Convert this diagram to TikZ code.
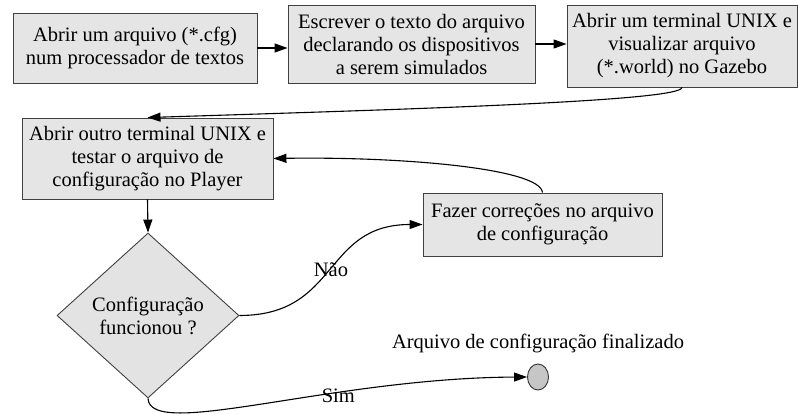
\documentclass[tikz,border=0pt]{standalone}
\usepackage{fontspec}
\setmainfont{Liberation Serif}
\usetikzlibrary{shapes.geometric,arrows.meta}

\tikzset{
  Etapa/.style={rectangle,draw=black!75,fill=gray!20,line width=0.9pt,align=center,inner sep=2pt},
  Decisao/.style={diamond,draw=black!75,fill=gray!22,line width=0.9pt,align=center,inner sep=0pt},
  Fim/.style={ellipse,draw=black!80,fill=gray!45,line width=0.9pt,minimum width=21pt,minimum height=26pt,inner sep=0pt},
  Ligacao/.style={-{Triangle[length=13pt,width=9pt]},line width=1.1pt}
}

\begin{document}
\begin{tikzpicture}[x=1pt,y=-1pt,font=\fontsize{20.5}{23}\selectfont]
\useasboundingbox (0,0) rectangle (798,414);
% etapas
\node[Etapa,minimum width=244pt,minimum height=70pt] (abrir) at (135,48) {Abrir um arquivo (*.cfg)\\num processador de textos};
\node[Etapa,minimum width=247pt,minimum height=78pt] (escrever) at (411.5,44) {Escrever o texto do arquivo\\declarando os dispositivos\\a serem simulados};
\node[Etapa,minimum width=230pt,minimum height=82pt] (gazebo) at (682,46) {Abrir um terminal UNIX e\\visualizar arquivo\\(*.world) no Gazebo};
\node[Etapa,minimum width=251pt,minimum height=81pt] (player) at (147.5,158.5) {Abrir outro terminal UNIX e\\testar o arquivo de\\configuração no Player};
\node[Etapa,minimum width=239pt,minimum height=63pt] (corrigir) at (542.5,224.5) {Fazer correções no arquivo\\de configuração};
\node[Decisao,minimum width=182pt,minimum height=165pt] (funcionou) at (148,315.5) {Configuração\\funcionou ?};
\node[Fim] (fim) at (538,377) {};
\node (fimtxt) at (538,343) {Arquivo de configuração finalizado};
% ligacoes
\draw[Ligacao] (abrir.east) -- (abrir.east -| escrever.west);
\draw[Ligacao] (escrever.east) -- (escrever.east -| gazebo.west);
\draw[Ligacao] (gazebo.south) .. controls +(0,14) and +(250,-8) .. (player.north);
\draw[Ligacao] (player.south) -- (funcionou.north);
\draw[Ligacao] (funcionou.east) .. controls +(100,0) and +(-100,0) .. node[pos=0.5] {Não} (corrigir.west);
\draw[Ligacao] (corrigir.north) .. controls +(-2,-24) and +(130,-2) .. (player.east);
\draw[Ligacao] (funcionou.south) .. controls +(2,42) and +(-197,1) .. node[pos=0.66,yshift=-3pt] {Sim} (fim.west);
\end{tikzpicture}
\end{document}
